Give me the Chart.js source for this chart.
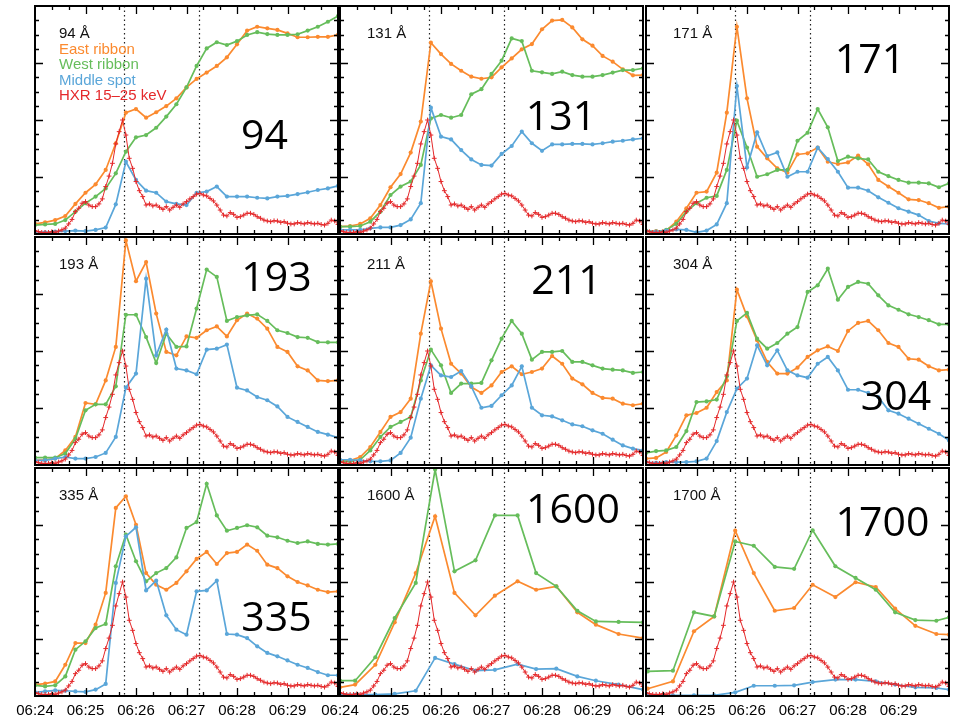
<!DOCTYPE html>
<html>
<head>
<meta charset="utf-8">
<script src="https://cdn.jsdelivr.net/npm/chart.js@4.4.1/dist/chart.umd.min.js"></script>
<style>
  html, body { margin: 0; padding: 0; background: #fff; width: 953px; height: 716px; overflow: hidden; }
  #grid { position: relative; width: 953px; height: 716px; }
  #grid canvas { position: absolute; }
</style>
</head>
<body>
<div id="grid"></div>
<script>
// ---- time axes (seconds after 06:24:00 UT) ----
const tickLabels = ['06:24', '06:25', '06:26', '06:27', '06:28', '06:29'];
const flareTimes = [106, 195];
const euvTimes = [0, 12, 24, 36, 48, 60, 72, 84, 96, 108, 120, 132, 144, 156, 168, 180,
  192, 204, 216, 228, 240, 252, 264, 276, 288, 300, 312, 324, 336, 348, 360];
const uv1600Times = [0, 18, 42, 65, 90, 113, 136, 161, 184, 211, 233, 257, 282, 304, 331, 360];
const uv1700Times = [2, 32, 57, 81, 106, 128, 153, 176, 198, 225, 249, 273, 296, 320, 345, 360];
const hxrTimes = [0, 4, 8, 12, 16, 20, 24, 28, 32, 36, 40, 44, 48, 52, 56, 60, 64, 68, 72, 76,
  80, 84, 88, 92, 96, 100, 104, 108, 112, 116, 120, 124, 128, 132, 136, 140, 144, 148, 152, 156,
  160, 164, 168, 172, 176, 180, 184, 188, 192, 196, 200, 204, 208, 212, 216, 220, 224, 228, 232, 236,
  240, 244, 248, 252, 256, 260, 264, 268, 272, 276, 280, 284, 288, 292, 296, 300, 304, 308, 312, 316,
  320, 324, 328, 332, 336, 340, 344, 348, 352, 356, 360];

// ---- HXR 15-25 keV (normalized) ----
const hxr = [0.015, 0.010, 0.007, 0.007, 0.007, 0.010, 0.007, 0.013, 0.018, 0.026,
  0.044, 0.064, 0.098, 0.113, 0.135, 0.142, 0.127, 0.120, 0.120, 0.132,
  0.154, 0.208, 0.254, 0.310, 0.395, 0.449, 0.500, 0.434, 0.332, 0.288,
  0.230, 0.190, 0.164, 0.127, 0.132, 0.123, 0.127, 0.117, 0.108, 0.120,
  0.105, 0.117, 0.127, 0.117, 0.132, 0.142, 0.154, 0.164, 0.175, 0.178,
  0.171, 0.167, 0.156, 0.145, 0.127, 0.105, 0.083, 0.079, 0.094, 0.086,
  0.073, 0.076, 0.083, 0.091, 0.091, 0.086, 0.076, 0.069, 0.061, 0.057,
  0.054, 0.058, 0.057, 0.051, 0.054, 0.047, 0.044, 0.044, 0.050, 0.047,
  0.044, 0.050, 0.047, 0.044, 0.047, 0.042, 0.039, 0.047, 0.061, 0.057,
  0.042];

// ---- 94 A ----
const east94 = [0.044, 0.051, 0.061, 0.079, 0.132, 0.181, 0.218, 0.281, 0.398, 0.532, 0.548, 0.510, 0.534, 0.561, 0.595, 0.643,
  0.680, 0.708, 0.737, 0.775, 0.832, 0.892, 0.909, 0.902, 0.895, 0.880, 0.863, 0.863, 0.865, 0.865, 0.873];
const west94 = [0.039, 0.042, 0.044, 0.061, 0.098, 0.135, 0.164, 0.200, 0.266, 0.361, 0.424, 0.434, 0.466, 0.515, 0.569, 0.643,
  0.737, 0.814, 0.841, 0.829, 0.846, 0.873, 0.885, 0.877, 0.873, 0.873, 0.876, 0.892, 0.909, 0.931, 0.956];
const mid94 = [0.010, 0.007, 0.010, 0.013, 0.015, 0.013, 0.018, 0.028, 0.130, 0.317, 0.237, 0.190, 0.181, 0.142, 0.132, 0.127,
  0.181, 0.186, 0.208, 0.164, 0.164, 0.164, 0.159, 0.156, 0.164, 0.167, 0.175, 0.183, 0.193, 0.200, 0.211];

// ---- 131 A ----
const east131 = [0.032, 0.035, 0.044, 0.069, 0.127, 0.205, 0.263, 0.357, 0.493, 0.839, 0.789, 0.746, 0.716, 0.690, 0.681, 0.687,
  0.731, 0.770, 0.810, 0.833, 0.898, 0.936, 0.939, 0.906, 0.854, 0.826, 0.781, 0.756, 0.722, 0.696, 0.697];
const west131 = [0.032, 0.032, 0.035, 0.054, 0.098, 0.171, 0.208, 0.230, 0.303, 0.507, 0.522, 0.510, 0.522, 0.613, 0.635, 0.702,
  0.760, 0.858, 0.846, 0.716, 0.709, 0.702, 0.712, 0.697, 0.690, 0.690, 0.697, 0.708, 0.719, 0.719, 0.727];
const mid131 = [0.018, 0.018, 0.018, 0.025, 0.029, 0.029, 0.039, 0.064, 0.135, 0.554, 0.427, 0.415, 0.368, 0.327, 0.303, 0.300,
  0.351, 0.386, 0.449, 0.398, 0.365, 0.393, 0.393, 0.395, 0.395, 0.393, 0.398, 0.405, 0.409, 0.415, 0.420];

// ---- 171 A ----
const east171 = [0.010, 0.013, 0.015, 0.054, 0.113, 0.181, 0.186, 0.269, 0.532, 0.909, 0.595, 0.383, 0.332, 0.288, 0.269, 0.349,
  0.354, 0.379, 0.317, 0.307, 0.314, 0.344, 0.306, 0.237, 0.208, 0.181, 0.152, 0.149, 0.135, 0.115, 0.120];
const west171 = [0.015, 0.010, 0.018, 0.044, 0.098, 0.135, 0.159, 0.167, 0.281, 0.497, 0.379, 0.251, 0.262, 0.281, 0.281, 0.409,
  0.444, 0.548, 0.468, 0.320, 0.339, 0.332, 0.327, 0.273, 0.254, 0.237, 0.225, 0.225, 0.222, 0.205, 0.222];
const mid171 = [0.013, 0.010, 0.015, 0.020, 0.018, 0.007, 0.015, 0.042, 0.135, 0.649, 0.292, 0.446, 0.342, 0.358, 0.251, 0.273,
  0.273, 0.379, 0.329, 0.273, 0.203, 0.203, 0.190, 0.161, 0.137, 0.113, 0.098, 0.083, 0.057, 0.047, 0.044];

// ---- 193 A ----
const east193 = [0.020, 0.023, 0.028, 0.064, 0.123, 0.272, 0.266, 0.371, 0.518, 0.985, 0.806, 0.890, 0.664, 0.496, 0.481, 0.564,
  0.558, 0.591, 0.608, 0.564, 0.635, 0.664, 0.642, 0.598, 0.518, 0.496, 0.433, 0.415, 0.371, 0.368, 0.371];
const west193 = [0.032, 0.032, 0.032, 0.050, 0.115, 0.240, 0.266, 0.266, 0.345, 0.659, 0.659, 0.561, 0.447, 0.576, 0.518, 0.520,
  0.686, 0.857, 0.825, 0.632, 0.649, 0.656, 0.661, 0.632, 0.591, 0.579, 0.561, 0.558, 0.539, 0.538, 0.538];
const mid193 = [0.020, 0.020, 0.028, 0.035, 0.028, 0.028, 0.035, 0.053, 0.123, 0.339, 0.401, 0.817, 0.481, 0.594, 0.423, 0.415,
  0.398, 0.506, 0.510, 0.528, 0.339, 0.327, 0.298, 0.284, 0.257, 0.211, 0.189, 0.167, 0.145, 0.133, 0.120];

// ---- 211 A ----
const east211 = [0.020, 0.020, 0.035, 0.079, 0.145, 0.211, 0.232, 0.291, 0.576, 0.806, 0.598, 0.444, 0.401, 0.342, 0.316, 0.349,
  0.408, 0.433, 0.398, 0.408, 0.423, 0.478, 0.444, 0.379, 0.354, 0.316, 0.294, 0.291, 0.269, 0.262, 0.269];
const west211 = [0.016, 0.016, 0.023, 0.064, 0.123, 0.167, 0.189, 0.211, 0.371, 0.506, 0.437, 0.316, 0.357, 0.357, 0.360, 0.459,
  0.554, 0.632, 0.576, 0.462, 0.496, 0.496, 0.500, 0.452, 0.452, 0.437, 0.423, 0.418, 0.415, 0.404, 0.408];
const mid211 = [0.023, 0.023, 0.020, 0.016, 0.016, 0.020, 0.053, 0.120, 0.291, 0.437, 0.393, 0.386, 0.412, 0.345, 0.251, 0.259,
  0.306, 0.349, 0.433, 0.251, 0.218, 0.213, 0.196, 0.178, 0.170, 0.152, 0.137, 0.111, 0.086, 0.072, 0.064];

// ---- 304 A ----
const east304 = [0.028, 0.031, 0.057, 0.130, 0.218, 0.228, 0.251, 0.320, 0.371, 0.769, 0.652, 0.547, 0.452, 0.401, 0.401, 0.427,
  0.474, 0.503, 0.520, 0.500, 0.588, 0.623, 0.632, 0.591, 0.535, 0.518, 0.466, 0.462, 0.433, 0.415, 0.418];
const west304 = [0.053, 0.061, 0.064, 0.079, 0.149, 0.276, 0.279, 0.287, 0.389, 0.632, 0.667, 0.554, 0.510, 0.535, 0.576, 0.605,
  0.759, 0.788, 0.861, 0.725, 0.781, 0.803, 0.795, 0.744, 0.700, 0.681, 0.661, 0.649, 0.635, 0.617, 0.617];
const mid304 = [0.013, 0.009, 0.013, 0.013, 0.013, 0.016, 0.028, 0.105, 0.232, 0.335, 0.379, 0.525, 0.437, 0.503, 0.415, 0.393,
  0.383, 0.444, 0.474, 0.415, 0.330, 0.330, 0.316, 0.298, 0.240, 0.225, 0.203, 0.181, 0.159, 0.137, 0.108];

// ---- 335 A ----
const east335 = [0.050, 0.054, 0.064, 0.137, 0.232, 0.232, 0.313, 0.452, 0.825, 0.876, 0.751, 0.539, 0.488, 0.466, 0.496, 0.547,
  0.601, 0.632, 0.579, 0.627, 0.632, 0.664, 0.637, 0.576, 0.561, 0.525, 0.500, 0.485, 0.466, 0.456, 0.459];
const west335 = [0.047, 0.042, 0.047, 0.086, 0.203, 0.240, 0.298, 0.316, 0.569, 0.708, 0.591, 0.503, 0.539, 0.561, 0.608, 0.737,
  0.763, 0.931, 0.792, 0.725, 0.737, 0.749, 0.740, 0.703, 0.696, 0.681, 0.671, 0.678, 0.667, 0.664, 0.667];
const mid335 = [0.016, 0.020, 0.025, 0.023, 0.020, 0.018, 0.028, 0.053, 0.496, 0.700, 0.740, 0.463, 0.506, 0.354, 0.291, 0.269,
  0.459, 0.463, 0.506, 0.272, 0.269, 0.254, 0.218, 0.189, 0.174, 0.156, 0.137, 0.123, 0.105, 0.091, 0.091];

// ---- 1600 A ----
const east1600 = [0.038, 0.050, 0.137, 0.323, 0.539, 0.788, 0.452, 0.354, 0.440, 0.503, 0.466, 0.481, 0.367, 0.313, 0.272, 0.254];
const west1600 = [0.067, 0.067, 0.170, 0.342, 0.496, 0.993, 0.547, 0.595, 0.792, 0.792, 0.539, 0.481, 0.374, 0.327, 0.325, 0.323];
const mid1600 = [0.009, 0.006, 0.006, 0.009, 0.023, 0.167, 0.140, 0.111, 0.115, 0.140, 0.118, 0.120, 0.086, 0.067, 0.050, 0.028];

// ---- 1700 A ----
const east1700 = [0.032, 0.064, 0.284, 0.349, 0.725, 0.539, 0.374, 0.386, 0.488, 0.434, 0.499, 0.478, 0.383, 0.308, 0.272, 0.269];
const west1700 = [0.108, 0.111, 0.367, 0.349, 0.678, 0.659, 0.566, 0.558, 0.727, 0.569, 0.518, 0.466, 0.367, 0.333, 0.330, 0.345];
const mid1700 = [0.006, 0.003, 0.003, 0.003, 0.016, 0.045, 0.045, 0.047, 0.061, 0.072, 0.072, 0.064, 0.050, 0.038, 0.035, 0.028];

// ---- series styling ----
const COLORS = { east: '#fb8a2f', west: '#66bd5b', mid: '#5aa6d9', hxr: '#e4292b' };
const seriesNames = ['East ribbon', 'West ribbon', 'Middle spot', 'HXR 15\u201325 keV'];

// ---- panel grid geometry ----
const colLeft = [35, 340, 646];
const rowTop = [6, 237, 468];
const PW = 303, PH = 228, PAD = 25, AXIS_H = 30;

const panels = [
  { wl: '94',   row: 0, col: 0, t: euvTimes,    east: east94,   west: west94,   mid: mid94,   big: [229.5, 143], tag: 24, legend: true },
  { wl: '131',  row: 0, col: 1, t: euvTimes,    east: east131,  west: west131,  mid: mid131,  big: [221, 124],   tag: 27 },
  { wl: '171',  row: 0, col: 2, t: euvTimes,    east: east171,  west: west171,  mid: mid171,  big: [224, 67],    tag: 27 },
  { wl: '193',  row: 1, col: 0, t: euvTimes,    east: east193,  west: west193,  mid: mid193,  big: [241.5, 54],  tag: 24 },
  { wl: '211',  row: 1, col: 1, t: euvTimes,    east: east211,  west: west211,  mid: mid211,  big: [226.5, 57],  tag: 27 },
  { wl: '304',  row: 1, col: 2, t: euvTimes,    east: east304,  west: west304,  mid: mid304,  big: [250, 173],   tag: 27 },
  { wl: '335',  row: 2, col: 0, t: euvTimes,    east: east335,  west: west335,  mid: mid335,  big: [241.5, 163], tag: 24 },
  { wl: '1600', row: 2, col: 1, t: uv1600Times, east: east1600, west: west1600, mid: mid1600, big: [233, 55],    tag: 27 },
  { wl: '1700', row: 2, col: 2, t: uv1700Times, east: east1700, west: west1700, mid: mid1700, big: [236.5, 68],  tag: 27 }
];

// Frame, inward ticks, flare-time markers and the panel texts
const panelDecor = {
  id: 'panelDecor',
  beforeDatasetsDraw(chart, args, opts) {
    const { ctx, chartArea: a, scales: { x } } = chart;
    ctx.save();
    ctx.strokeStyle = '#222';
    ctx.lineWidth = 1.2;
    ctx.setLineDash([1.5, 3]);
    flareTimes.forEach(t => {
      const px = Math.round(x.getPixelForValue(t)) + 0.5;
      ctx.beginPath();
      ctx.moveTo(px, a.top);
      ctx.lineTo(px, a.bottom);
      ctx.stroke();
    });
    ctx.restore();
  },
  afterDatasetsDraw(chart, args, opts) {
    const { ctx, chartArea: a, scales: { x, y } } = chart;
    ctx.save();
    ctx.strokeStyle = '#000';
    ctx.lineWidth = 1.3;
    ctx.beginPath();
    for (let t = 20; t < 360; t += 20) {
      const px = Math.round(x.getPixelForValue(t)) + 0.5;
      const len = t % 60 === 0 ? 8 : 4;
      ctx.moveTo(px, a.bottom); ctx.lineTo(px, a.bottom - len);
      ctx.moveTo(px, a.top); ctx.lineTo(px, a.top + len);
    }
    for (let i = 1; i < 16; i++) {
      const py = Math.round(y.getPixelForValue(i / 16)) + 0.5;
      const len = i % 4 === 0 ? 8 : 4;
      ctx.moveTo(a.left, py); ctx.lineTo(a.left + len, py);
      ctx.moveTo(a.right, py); ctx.lineTo(a.right - len, py);
    }
    ctx.stroke();
    ctx.lineWidth = 2;
    ctx.strokeRect(a.left, a.top, a.right - a.left, a.bottom - a.top);

    // wavelength tag and legend
    ctx.textBaseline = 'alphabetic';
    ctx.textAlign = 'left';
    ctx.font = '15px "Liberation Sans", Arial, sans-serif';
    ctx.fillStyle = '#111';
    ctx.fillText(opts.wl + ' \u00c5', a.left + opts.tag, a.top + 32);
    if (opts.legend) {
      const cols = [COLORS.east, COLORS.west, COLORS.mid, COLORS.hxr];
      seriesNames.forEach((n, i) => {
        ctx.fillStyle = cols[i];
        ctx.fillText(n, a.left + opts.tag, a.top + 48 + i * 15.3);
      });
    }
    // large wavelength label
    ctx.textAlign = 'center';
    ctx.fillStyle = '#000';
    ctx.font = '41px "Open Sans", "Noto Sans", sans-serif';
    ctx.fillText(opts.wl, a.left + opts.big[0], a.top + opts.big[1]);
    ctx.restore();
  }
};

function line(label, times, vals, color, extra) {
  return Object.assign({
    label,
    data: times.map((t, i) => ({ x: t, y: vals[i] })),
    borderColor: color,
    backgroundColor: color,
    borderWidth: 1.7,
    pointRadius: 2.1,
    pointBorderWidth: 0,
    pointStyle: 'circle',
    tension: 0,
    fill: false
  }, extra || {});
}

const grid = document.getElementById('grid');
panels.forEach(p => {
  const bottomRow = p.row === 2;
  const cv = document.createElement('canvas');
  cv.width = PW + 2 * PAD;
  cv.height = PH + PAD + (bottomRow ? AXIS_H : PAD);
  cv.style.left = (colLeft[p.col] - PAD) + 'px';
  cv.style.top = (rowTop[p.row] - PAD) + 'px';
  grid.appendChild(cv);

  const xScale = {
    type: 'linear',
    min: 0, max: 360,
    display: bottomRow,
    grid: { display: false, drawTicks: false, tickLength: 0 },
    border: { display: false },
    ticks: {
      stepSize: 60,
      autoSkip: false,
      maxRotation: 0,
      padding: 6,
      color: '#000',
      font: { family: '"Liberation Sans", Arial, sans-serif', size: 15 },
      callback: v => tickLabels[v / 60] ?? ''
    }
  };
  if (bottomRow) xScale.afterFit = s => { s.height = AXIS_H; };

  new Chart(cv, {
    type: 'line',
    data: {
      datasets: [
        line(seriesNames[3], hxrTimes, hxr, COLORS.hxr, { borderWidth: 1, pointStyle: 'cross', pointRadius: 2.4, pointBorderWidth: 1, order: 0 }),
        line(seriesNames[2], p.t, p.mid, COLORS.mid, { order: 1 }),
        line(seriesNames[1], p.t, p.west, COLORS.west, { order: 2 }),
        line(seriesNames[0], p.t, p.east, COLORS.east, { order: 3 })
      ]
    },
    options: {
      responsive: false,
      animation: false,
      devicePixelRatio: 1,
      layout: { padding: { left: PAD, right: PAD, top: PAD, bottom: bottomRow ? 0 : PAD } },
      plugins: {
        legend: { display: false },
        tooltip: { enabled: false },
        panelDecor: { wl: p.wl, big: p.big, tag: p.tag, legend: !!p.legend }
      },
      scales: {
        x: xScale,
        y: { type: 'linear', min: 0, max: 1, display: false }
      }
    },
    plugins: [panelDecor]
  });
});
</script>
</body>
</html>
